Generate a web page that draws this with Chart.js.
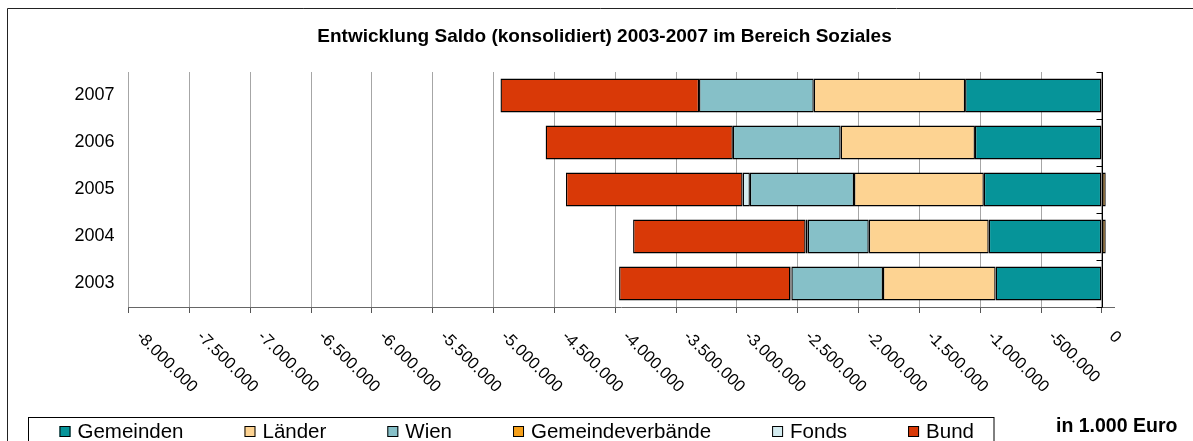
<!DOCTYPE html>
<html>
<head>
<meta charset="utf-8">
<script src="https://cdn.jsdelivr.net/npm/chart.js@4/dist/chart.umd.min.js"></script>
<style>
  html, body { margin: 0; padding: 0; background: #fff; }
  canvas { display: block; }
</style>
</head>
<body>
<canvas id="myChart" width="1193" height="441"></canvas>
<script>
// values in 1.000 Euro
const years = ["2007", "2006", "2005", "2004", "2003"];
const gemeinden = [-1124000, -1043000, -970000, -930000, -873000];
const laender = [-1244000, -1104000, -1067000, -986000, -926000];
const wien = [-943000, -886000, -856000, -502000, -753000];
const gemeindeverbaende = [8000, 0, 32000, 32000, 8000];
const fonds = [0, 0, -60000, -17000, -8000];
const bund = [-1632000, -1539000, -1452000, -1418000, -1408000];

const xTickValues = [
  -8000000, -7500000, -7000000, -6500000, -6000000, -5500000, -5000000, -4500000,
  -4000000, -3500000, -3000000, -2500000, -2000000, -1500000, -1000000, -500000, 0,
];

const titleText = "Entwicklung Saldo (konsolidiert) 2003-2007 im Bereich Soziales";
const unitText = "in 1.000 Euro";
const fontFamily = '"Liberation Sans", Arial, sans-serif';

// german thousands separator
function formatNumber(v) {
  const s = Math.abs(v).toString().replace(/\B(?=(\d{3})+(?!\d))/g, ".");
  return (v < 0 ? "-" : "") + s;
}

function series(label, data, color) {
  return {
    label: label,
    data: data,
    backgroundColor: color,
    borderColor: "#000",
    borderWidth: 1.4,
    borderSkipped: false,
    barPercentage: 0.72,
    categoryPercentage: 1,
  };
}

// title, axis line at zero, rotated tick labels, legend box, unit text and frame
const extras = {
  id: "extras",
  beforeDatasetsDraw(chart) {
    const ctx = chart.ctx;
    const area = chart.chartArea;
    const x0 = Math.round(chart.scales.x.getPixelForValue(0)) + 0.5;
    const n = chart.data.labels.length;
    ctx.save();
    ctx.strokeStyle = "#000";
    ctx.lineWidth = 1;
    ctx.beginPath();
    ctx.moveTo(x0, area.top);
    ctx.lineTo(x0, area.bottom);
    for (let i = 0; i <= n; i++) {
      const yy = Math.round(area.top + (i * (area.bottom - area.top)) / n) + 0.5;
      ctx.moveTo(x0 - 6, yy);
      ctx.lineTo(x0, yy);
    }
    ctx.stroke();
    ctx.restore();
  },
  afterDraw(chart) {
    const ctx = chart.ctx;
    const xs = chart.scales.x;
    ctx.save();

    // title
    ctx.font = "bold 19px " + fontFamily;
    ctx.fillStyle = "#000";
    ctx.textAlign = "center";
    ctx.textBaseline = "middle";
    ctx.fillText(titleText, 604.5, 37);

    // tick labels, turned 45 degrees clockwise
    ctx.font = "16.5px " + fontFamily;
    ctx.textAlign = "left";
    xs.ticks.forEach((t) => {
      const px = xs.getPixelForValue(t.value);
      ctx.save();
      ctx.translate(px + 10, xs.top + 27);
      ctx.rotate(Math.PI / 4);
      ctx.fillText(formatNumber(t.value), 0, 0);
      ctx.restore();
    });

    // legend
    ctx.strokeStyle = "#000";
    ctx.lineWidth = 1;
    ctx.strokeRect(28.5, 417.5, 965.5, 40);
    ctx.font = "20.5px " + fontFamily;
    ctx.textBaseline = "alphabetic";
    let lx = 59.5;
    chart.data.datasets.forEach((ds) => {
      ctx.fillStyle = ds.backgroundColor;
      ctx.fillRect(lx, 426, 11, 11);
      ctx.strokeRect(lx + 0.5, 426.5, 10, 10);
      ctx.fillStyle = "#000";
      ctx.fillText(ds.label, lx + 18, 438);
      lx += 18 + ctx.measureText(ds.label).width + 61;
    });

    // unit
    ctx.font = "bold 19.5px " + fontFamily;
    ctx.fillText(unitText, 1056, 432);

    // outer frame (right and bottom edges are cut off)
    ctx.strokeStyle = "#222";
    ctx.beginPath();
    ctx.moveTo(7.5, 441);
    ctx.lineTo(7.5, 8.5);
    ctx.lineTo(1193, 8.5);
    ctx.stroke();
    ctx.restore();
  },
};

const ctx = document.getElementById("myChart").getContext("2d");
const myChart = new Chart(ctx, {
  type: "bar",
  data: {
    labels: years,
    datasets: [
      series("Gemeinden", gemeinden, "#069499"),
      series("Länder", laender, "#FDD392"),
      series("Wien", wien, "#86C0C8"),
      series("Gemeindeverbände", gemeindeverbaende, "#F6A01A"),
      series("Fonds", fonds, "#D4ECF0"),
      series("Bund", bund, "#D93907"),
    ],
  },
  options: {
    indexAxis: "y",
    responsive: false,
    animation: false,
    layout: { padding: { left: 0, right: 79, top: 72, bottom: 0 } },
    plugins: {
      legend: { display: false },
      tooltip: { enabled: false },
      title: { display: false },
    },
    scales: {
      x: {
        stacked: true,
        min: -8000000,
        max: 100000,
        ticks: { display: false },
        afterBuildTicks(scale) {
          scale.ticks = xTickValues.map((v) => ({ value: v }));
        },
        grid: { color: "#a6a6a6", tickColor: "#555", tickLength: 6, drawTicks: true },
        border: { color: "#666" },
        afterFit(scale) {
          scale.height = 134;
        },
      },
      y: {
        stacked: true,
        grid: { display: false, drawTicks: false },
        border: { display: false },
        ticks: { padding: 14, color: "#000", font: { family: fontFamily, size: 18 } },
        afterFit(scale) {
          scale.width = 128.6;
        },
      },
    },
  },
  plugins: [extras],
});
</script>
</body>
</html>
